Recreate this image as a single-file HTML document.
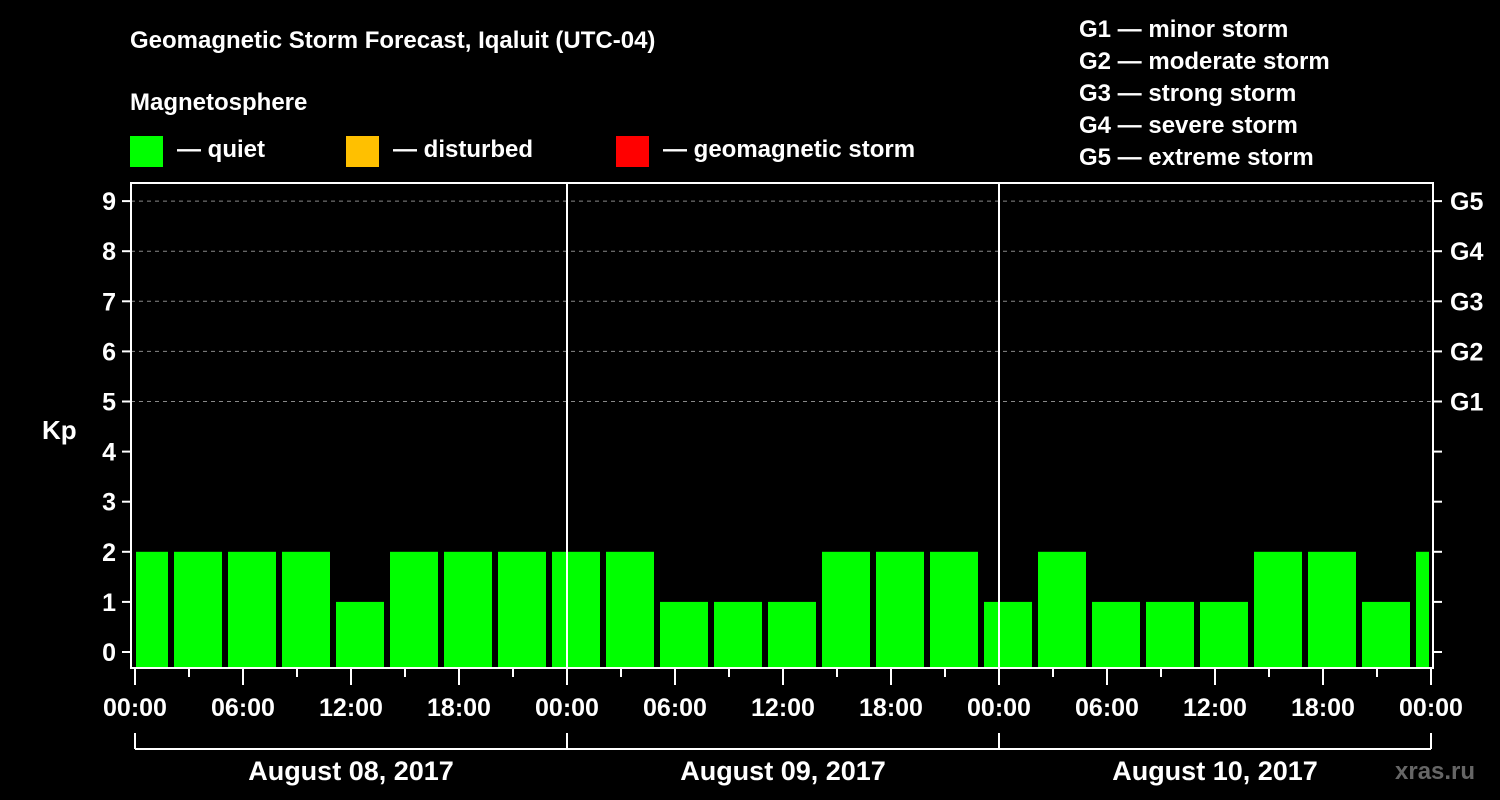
<!DOCTYPE html>
<html><head><meta charset="utf-8"><style>
html,body{margin:0;padding:0;background:#000;}
svg{display:block;font-family:"Liberation Sans",Arial,sans-serif;font-weight:bold;}
</style></head><body>
<svg id="c" width="1500" height="800" xmlns="http://www.w3.org/2000/svg">
<rect width="1500" height="800" fill="#000"/>
<text x="130" y="48" fill="#fff" font-size="24">Geomagnetic Storm Forecast, Iqaluit (UTC-04)</text>
<text x="130" y="110" fill="#fff" font-size="24">Magnetosphere</text>
<g>
<rect x="130" y="136" width="33" height="31" fill="#00ff00"/>
<text x="177" y="157" fill="#fff" font-size="24">— quiet</text>
<rect x="346" y="136" width="33" height="31" fill="#ffc000"/>
<text x="393" y="157" fill="#fff" font-size="24">— disturbed</text>
<rect x="616" y="136" width="33" height="31" fill="#ff0000"/>
<text x="663" y="157" fill="#fff" font-size="24">— geomagnetic storm</text>
</g>
<g fill="#fff" font-size="24">
<text x="1079" y="37">G1 — minor storm</text>
<text x="1079" y="69">G2 — moderate storm</text>
<text x="1079" y="101">G3 — strong storm</text>
<text x="1079" y="133">G4 — severe storm</text>
<text x="1079" y="165">G5 — extreme storm</text>
</g>
<text x="42" y="439" fill="#fff" font-size="26">Kp</text>
<text x="1395" y="779" fill="#666" font-size="24">xras.ru</text>
<g id="plot"></g>
</svg>
<script>
const kpValues=[2,2,2,2,1,2,2,2,2,2,1,1,1,2,2,2,1,2,1,1,1,2,2,1,2];
const yTicks=[0,1,2,3,4,5,6,7,8,9];
const gLabels=["G1","G2","G3","G4","G5"];
const timeLabels=["00:00","06:00","12:00","18:00","00:00","06:00","12:00","18:00","00:00","06:00","12:00","18:00","00:00"];
const dayLabels=["August 08, 2017","August 09, 2017","August 10, 2017"];
const NS="http://www.w3.org/2000/svg";
const g=document.getElementById('plot');
const L=131,R=1433,T=183,B=668;
const x=h=>135+h*18;
const y=v=>652-v*50.1;
function mk(tag,a,parent){const e=document.createElementNS(NS,tag);for(const k in a)e.setAttribute(k,a[k]);(parent||g).appendChild(e);return e;}
// grid
for(const v of [5,6,7,8,9]){const e=mk('line',{x1:L,x2:R,y1:y(v),y2:y(v),stroke:'#888','stroke-dasharray':'4,4','stroke-width':1});

}
// bars
kpValues.forEach((v,i)=>{let h0=-1+3*i,h1=h0+3;let x0=x(Math.max(h0,0))+(h0<0?1:3),x1=x(Math.min(h1,72))-(h1>72?2:3);
const e=mk('rect',{x:x0,y:y(v),width:x1-x0,height:B-1-y(v),fill:'#00ff00'});

});
// day separators
for(const d of [1,2]){const e=mk('line',{x1:x(24*d),x2:x(24*d),y1:T,y2:B,stroke:'#fff','stroke-width':2});

}
// frame
const f=mk('rect',{x:L,y:T,width:R-L,height:B-T,fill:'none',stroke:'#fff','stroke-width':2});


// y ticks
yTicks.forEach(v=>{mk('line',{x1:122,x2:L,y1:y(v),y2:y(v),stroke:'#fff','stroke-width':2});
mk('line',{x1:R,x2:1442,y1:y(v),y2:y(v),stroke:'#fff','stroke-width':2});
const t=mk('text',{x:116,y:y(v)+9,fill:'#fff','font-size':25,'text-anchor':'end'});t.textContent=v;

});
gLabels.forEach((s,i)=>{const t=mk('text',{x:1450,y:y(5+i)+9,fill:'#fff','font-size':25});t.textContent=s;

});
// x ticks
for(let h=0;h<=72;h+=3){const major=h%6===0;mk('line',{x1:x(h),x2:x(h),y1:B+1,y2:major?685:677,stroke:'#fff','stroke-width':2});}
timeLabels.forEach((s,i)=>{const t=mk('text',{x:x(i*6),y:716,fill:'#fff','font-size':25,'text-anchor':'middle'});t.textContent=s;

});
// date bracket
mk('line',{x1:x(0),x2:x(72),y1:749,y2:749,stroke:'#fff','stroke-width':2});
for(let d=0;d<=3;d++)mk('line',{x1:x(24*d),x2:x(24*d),y1:733,y2:749,stroke:'#fff','stroke-width':2});
dayLabels.forEach((s,i)=>{const t=mk('text',{x:x(24*i+12),y:780,fill:'#fff','font-size':27,'text-anchor':'middle'});t.textContent=s;

});
</script>
</body></html>
